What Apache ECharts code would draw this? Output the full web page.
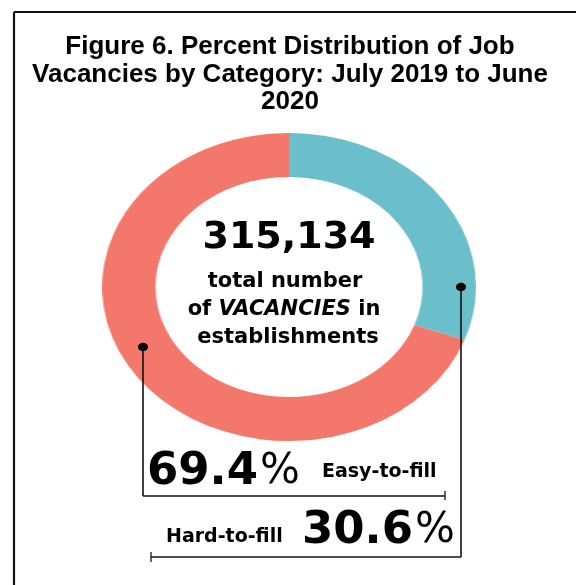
<!DOCTYPE html>
<html>
<head>
<meta charset="utf-8">
<script src="https://cdn.jsdelivr.net/npm/echarts@6/dist/echarts.min.js"></script>
<style>
  html, body { margin: 0; padding: 0; background: #fff; }
  #wrap { position: relative; width: 576px; height: 585px; overflow: hidden; }
  #ring { position: absolute; left: 135px; top: 133px; width: 308px; height: 308px;
          transform: scaleX(1.214); transform-origin: 50% 50%; }
  #main { position: absolute; left: 0; top: 0; width: 576px; height: 585px; }
</style>
</head>
<body>
<div id="wrap">
  <div id="ring"></div>
  <div id="main"></div>
</div>
<script>
// data
const categories = ['Hard-to-fill', 'Easy-to-fill'];
const shares = [30.6, 69.4];
const colors = ['#6abfcb', '#f4776b'];
const totalVacancies = 315134;
const titleLines = [
  'Figure 6. Percent Distribution of Job',
  'Vacancies by Category: July 2019 to June',
  '2020'
];

const geo = 'DejaVu Sans';

// donut (stretched into an ellipse by the css on #ring)
const ring = echarts.init(document.getElementById('ring'));
ring.setOption({
  animation: false,
  series: [{
    type: 'pie',
    radius: [110, 154],
    center: ['50%', '50%'],
    startAngle: 90,
    clockwise: true,
    silent: true,
    label: { show: false },
    labelLine: { show: false },
    itemStyle: { borderWidth: 0 },
    data: categories.map((c, i) => ({ name: c, value: shares[i], itemStyle: { color: colors[i] } }))
  }]
});

// titles, texts and leader lines
const main = echarts.init(document.getElementById('main'));
const lineStyle = { stroke: '#111', lineWidth: 1.6 };

function seg(x1, y1, x2, y2, w) {
  return { type: 'line', shape: { x1, y1, x2, y2 }, style: Object.assign({}, lineStyle, w ? { lineWidth: w } : {}) };
}
function dot(cx, cy) {
  return { type: 'ellipse', shape: { cx, cy, rx: 5, ry: 4.2 }, style: { fill: '#000' } };
}
function pct(v) {
  return '{n|' + v.toFixed(1) + '}{p|%}';
}
const pctRich = {
  n: { fontFamily: geo, fontWeight: 'bold', fontSize: 45, color: '#000' },
  p: { fontFamily: geo, fontWeight: 'normal', fontSize: 42, color: '#000', padding: [0, 0, 0, 2] }
};
const bodyFont = 'bold 21px "' + geo + '"';
const catFont = 'bold 19px "' + geo + '"';

main.setOption({
  animation: false,
  graphic: [
    // frame
    seg(14, 12, 576, 12, 2.2),
    seg(14, 12, 14, 585, 2.2),
    // title
    ...titleLines.map((t, i) => ({
      type: 'text', x: 290, y: 47 + i * 27.5,
      style: { text: t, fill: '#000', font: 'bold 26px "Liberation Sans", Arial', align: 'center', verticalAlign: 'middle' }
    })),
    // centre
    { type: 'text', x: 289, y: 238,
      style: { text: totalVacancies.toLocaleString('en-US'), fill: '#000', font: 'bold 38px "' + geo + '"', align: 'center', verticalAlign: 'middle' } },
    { type: 'text', x: 285, y: 282,
      style: { text: 'total number', fill: '#000', font: bodyFont, align: 'center', verticalAlign: 'middle' } },
    { type: 'text', x: 284, y: 310,
      style: { text: 'of {i|VACANCIES} in', fill: '#000', font: bodyFont, align: 'center', verticalAlign: 'middle',
               rich: { i: { fontFamily: geo, fontWeight: 'bold', fontStyle: 'italic', fontSize: 21, fill: '#000' } } } },
    { type: 'text', x: 288, y: 338,
      style: { text: 'establishments', fill: '#000', font: bodyFont, align: 'center', verticalAlign: 'middle' } },
    // easy-to-fill leader
    dot(143, 347),
    seg(143, 347, 143, 496),
    seg(143, 496, 445, 496, 1.3),
    seg(445, 491, 445, 500, 1.3),
    { type: 'text', x: 147, y: 472,
      style: { text: pct(shares[1]), align: 'left', verticalAlign: 'middle', rich: pctRich } },
    { type: 'text', x: 322, y: 472,
      style: { text: categories[1], fill: '#000', font: catFont, align: 'left', verticalAlign: 'middle' } },
    // hard-to-fill leader
    dot(461, 287),
    seg(461, 287, 461, 557),
    seg(151, 557, 461, 557, 1.3),
    seg(151, 552, 151, 562, 1.3),
    { type: 'text', x: 166, y: 537,
      style: { text: categories[0], fill: '#000', font: catFont, align: 'left', verticalAlign: 'middle' } },
    { type: 'text', x: 302, y: 531,
      style: { text: pct(shares[0]), align: 'left', verticalAlign: 'middle', rich: pctRich } }
  ]
});
</script>
</body>
</html>
